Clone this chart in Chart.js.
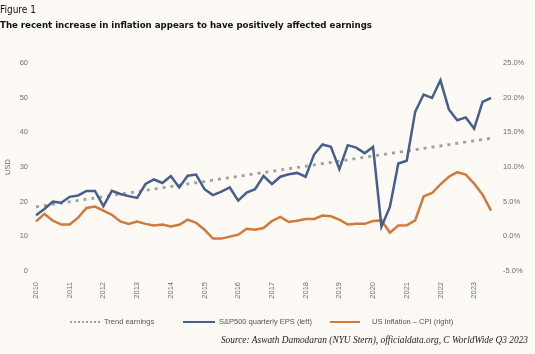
<!DOCTYPE html>
<html>
<head>
<meta charset="utf-8">
<script src="https://cdn.jsdelivr.net/npm/chart.js@4.4.1/dist/chart.umd.min.js"></script>
<style>
    html, body { margin: 0; padding: 0; background: #fdf9f4; }
    #wrap { position: relative; width: 535px; height: 354px; overflow: hidden; background: #fdf9f4; }
    #chart { position: absolute; left: 0; top: 0; }
    .txt { position: absolute; white-space: nowrap; }
    #fig { left: 0; top: 4px; font: 10px 'Liberation Sans Narrow', 'DejaVu Sans Condensed', sans-serif; color: #111; }
    #title { left: 0; top: 19px; font: bold 11px 'Liberation Sans Narrow', 'DejaVu Sans Condensed', sans-serif; color: #111; }
    #legend { top: 317px; font: 7.5px 'Liberation Sans', Arial, sans-serif; color: #555; left: 0; width: 535px; height: 12px; }
    #legend .item { position: absolute; top: 0; }
    #legend .swatch { position: absolute; top: 4px; }
    #source { right: 7px; top: 335px; font: italic 9.5px 'Liberation Serif', 'DejaVu Serif', serif; color: #222; }
</style>
</head>
<body>
<div id="wrap">
    <canvas id="chart" width="535" height="354"></canvas>
    <div class="txt" id="fig">Figure 1</div>
    <div class="txt" id="title">The recent increase in inflation appears to have positively affected earnings</div>
    <div class="txt" id="legend">
        <div class="swatch" style="left:70px;width:30px;border-top:2px dotted #a0a0a0;"></div>
        <div class="item" style="left:104px;">Trend earnings</div>
        <div class="swatch" style="left:183px;width:32px;height:2.5px;background:#465f8c;top:3.5px;"></div>
        <div class="item" style="left:219px;">S&amp;P500 quarterly EPS (left)</div>
        <div class="swatch" style="left:330px;width:30px;height:2.5px;background:#d07a3c;top:3.5px;"></div>
        <div class="item" style="left:372px;">US Inflation – CPI (right)</div>
    </div>
    <div class="txt" id="source">Source: Aswath Damodaran (NYU Stern), officialdata.org, C WorldWide Q3 2023</div>
</div>
<script>
// quarters 2010 Q1 .. 2023 Q3
const years = ['2010', '2011', '2012', '2013', '2014', '2015', '2016', '2017', '2018', '2019', '2020', '2021', '2022', '2023'];
const quarters = [];
years.forEach(y => ['Q1', 'Q2', 'Q3', 'Q4'].forEach(q => quarters.push(y + ' ' + q)));
quarters.length = 55;

// S&P500 quarterly EPS (USD, left axis)
const epsValues = [
    16.1, 17.9, 20.0, 19.7, 21.4, 21.8, 23.1, 23.1, 18.7, 23.1,
    22.2, 21.6, 21.1, 25.1, 26.4, 25.4, 27.4, 24.1, 27.5, 27.8,
    23.6, 21.9, 22.9, 24.1, 20.3, 22.6, 23.6, 27.4, 25.1, 27.2,
    27.9, 28.3, 27.2, 33.6, 36.5, 35.8, 29.4, 36.3, 35.6, 34.0,
    35.8, 12.8, 18.5, 31.0, 31.8, 45.9, 50.9, 49.9, 55.0, 46.6,
    43.5, 44.3, 41.1, 48.8, 49.9
];

// US inflation, CPI yoy (%, right axis)
const cpiValues = [
    2.15, 3.25, 2.25, 1.7, 1.7, 2.7, 4.1, 4.3, 3.7, 3.1,
    2.15, 1.8, 2.15, 1.8, 1.57, 1.7, 1.43, 1.67, 2.4, 1.96,
    0.96, -0.33, -0.33, -0.04, 0.24, 1.1, 0.96, 1.2, 2.2, 2.8,
    2.06, 2.25, 2.5, 2.5, 3.0, 2.9, 2.4, 1.7, 1.8, 1.8,
    2.2, 2.3, 0.53, 1.57, 1.6, 2.3, 5.75, 6.25, 7.5, 8.6,
    9.25, 8.9, 7.6, 6.0, 3.7
];

// linear trend of earnings, start and end (USD)
const trendPoints = [
    { x: '2010 Q1', y: 18.5 },
    { x: '2023 Q3', y: 38.3 }
];

const leftTicks = [0, 10, 20, 30, 40, 50, 60];
const rightTicks = [-5, 0, 5, 10, 15, 20, 25];

function fitWidth(id, target) {
    const el = document.getElementById(id);
    const size = parseFloat(getComputedStyle(el).fontSize);
    el.style.fontSize = (size * target / el.offsetWidth) + 'px';
}
fitWidth('title', 372);
fitWidth('source', 308);

const tickFont = { family: "'Liberation Sans', Arial, sans-serif", size: 7.5 };
const tickColor = '#707070';

new Chart(document.getElementById('chart'), {
    type: 'line',
    data: {
        labels: quarters,
        datasets: [
            {
                label: 'Trend earnings',
                data: trendPoints,
                yAxisID: 'y',
                borderColor: '#a0a0a0',
                borderWidth: 2.8,
                borderDash: [3, 5],
                pointRadius: 0,
                tension: 0,
                order: 3
            },
            {
                label: 'S&P500 quarterly EPS (left)',
                data: epsValues,
                yAxisID: 'y',
                borderColor: '#465f8c',
                borderWidth: 2.5,
                pointRadius: 0,
                tension: 0,
                borderJoinStyle: 'miter',
                order: 1
            },
            {
                label: 'US Inflation – CPI (right)',
                data: cpiValues,
                yAxisID: 'y1',
                borderColor: '#d07a3c',
                borderWidth: 2.5,
                pointRadius: 0,
                tension: 0,
                order: 2
            }
        ]
    },
    options: {
        responsive: false,
        animation: false,
        layout: { padding: { top: 63, bottom: 40, left: 0, right: 0 } },
        plugins: {
            legend: { display: false },
            tooltip: { enabled: false }
        },
        scales: {
            x: {
                offset: false,
                grid: { display: false, drawTicks: false },
                border: { display: false },
                afterFit: scale => { scale.height = 43; },
                ticks: {
                    autoSkip: false,
                    maxRotation: 90,
                    minRotation: 90,
                    padding: 11,
                    font: tickFont,
                    color: tickColor,
                    callback: function (value) {
                        const label = this.getLabelForValue(value);
                        return label.endsWith('Q1') ? label.slice(0, 4) : '';
                    }
                }
            },
            y: {
                position: 'left',
                min: leftTicks[0],
                max: leftTicks[leftTicks.length - 1],
                grid: { display: false, drawTicks: false },
                border: { display: false },
                afterFit: scale => { scale.width = 36; },
                afterBuildTicks: scale => { scale.ticks = leftTicks.map(v => ({ value: v })); },
                title: {
                    display: true,
                    text: 'USD',
                    color: tickColor,
                    font: tickFont,
                    padding: { top: 3, bottom: 0 }
                },
                ticks: { padding: 8, font: tickFont, color: tickColor }
            },
            y1: {
                position: 'right',
                min: rightTicks[0],
                max: rightTicks[rightTicks.length - 1],
                grid: { display: false, drawTicks: false },
                border: { display: false },
                afterFit: scale => { scale.width = 44; },
                afterBuildTicks: scale => { scale.ticks = rightTicks.map(v => ({ value: v })); },
                ticks: {
                    padding: 12,
                    font: tickFont,
                    color: tickColor,
                    callback: v => v.toFixed(1) + '%'
                }
            }
        }
    }
});
</script>
</body>
</html>
